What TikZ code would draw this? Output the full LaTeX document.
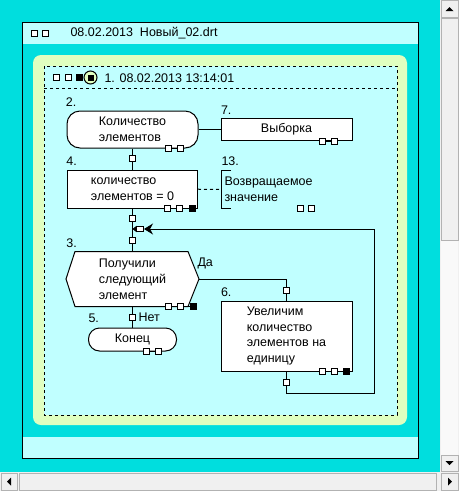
\documentclass[tikz,border=0pt]{standalone}
\usepackage{fontspec}
\setmainfont{Liberation Sans}
\usetikzlibrary{arrows.meta,calc,positioning}
\definecolor{aqua}{HTML}{00DEDE}
\definecolor{paleaqua}{HTML}{C0FFFF}
\definecolor{lime}{HTML}{E0FFC0}
\definecolor{bargray}{HTML}{F0F0F0}
\tikzset{every node/.style={font=\fontsize{12.5}{15.8}\selectfont},
  box/.style={draw,fill=white,inner sep=0pt,align=left},
  port/.style={draw,fill=white,minimum size=6pt,inner sep=0pt},
  num/.style={anchor=west,inner sep=0pt},
  btn/.style={fill=bargray,draw=gray!60}}
% row of output ports under a block
\newcommand\outs[2]{%
  \node[port] (#1a) at ($(#1.south east)+(-30.5,0)$) {};
  \node[port] (#1b) at ($(#1.south east)+(-18.5,0)$) {};
  \draw (#1a) -- (#1b);
  \ifnum#2=1 \node[port,fill=black] (#1c) at ($(#1.south east)+(-6,0)$) {};\draw (#1b) -- (#1c);\fi}

\begin{document}
\begin{tikzpicture}[x=1pt,y=-1pt,line width=1pt]
\useasboundingbox (0,0) rectangle (459,491);
% window
\fill[aqua] (0,0) rectangle (440,472);
\fill[paleaqua] (22,22) rectangle (418,44);\fill[paleaqua] (22,437) rectangle (418,458);
\draw (22,22) rectangle (418,458);
\node[port] (w1) at (34,33) {};\node[port] (w2) at (45,33) {};
\node[anchor=west,inner sep=0pt] (title) at (70,33) {08.02.2013\ \ Новый\_02.drt};
% scroll bars
\fill[bargray] (440,0) rectangle (459,472);\fill[bargray] (0,472) rectangle (459,491);
\fill[white!60!bargray] (441,241) rectangle (458,455);
\draw[btn] (441,0.5) rectangle (458,17);\draw[btn] (441,18) rectangle (458,240);\draw[btn] (441,455) rectangle (458,471);
\draw[btn] (1,473) rectangle (17,490);\draw[btn] (19,473) rectangle (436,490);\draw[btn] (441,473) rectangle (458,490);
\fill (445.5,11) -- (453.5,11) -- (449.5,7) -- cycle;\fill (445.5,461) -- (453.5,461) -- (449.5,465) -- cycle;
\fill (7,481.5) -- (11,477.5) -- (11,485.5) -- cycle;\fill (452,481.5) -- (448,477.5) -- (448,485.5) -- cycle;
% program frame
\fill[lime,rounded corners=8] (33,55) rectangle (407,425);
\draw[dashed,fill=paleaqua] (44,66) rectangle (397,415);
\draw[dashed] (44,88) -- (397,88);
\node[port] (h1) at (56,77.5) {};\node[port] (h2) at (68,77.5) {};\node[port,fill=black] (h3) at (79.5,77.5) {};
\node[circle,draw,fill=lime,minimum size=13pt,inner sep=0pt] (hc) at (90.5,77.5) {};
\node[port,fill=black,minimum size=5pt] (hd) at (hc) {};
\node[anchor=west,inner sep=0pt] (head) at (104,78) {1. 08.02.2013 13:14:01};
% blocks
\node[box,rounded corners=13pt,minimum width=131pt,minimum height=37pt] (n2) at (132.5,129.5) {Количество\\элементов};
\node[box,minimum width=131pt,minimum height=22pt,align=center] (n7) at (286.5,129.5) {Выборка};
\node[box,minimum width=130pt,minimum height=38pt] (n4) at (132.5,189) {количество\\элементов = 0};
\node[anchor=west,minimum height=37pt,inner xsep=3pt,inner ysep=0pt,align=left] (n13) at (221,189.5) {Возвращаемое\\значение};
\draw ($(n13.north west)+(10,0)$) -- (n13.north west) -- (n13.south west) -- ++(10,0);
\node[minimum width=132pt,minimum height=54pt,inner sep=0pt] (n3) at (132.5,279) {};
\draw[fill=white] (n3.west) -- ($(n3.north west)+(9,0)$) -- ($(n3.north east)+(-11,0)$) -- (n3.east)
  -- ($(n3.south east)+(-11,0)$) -- ($(n3.south west)+(9,0)$) -- cycle;
\node[align=left,inner sep=0pt] (t3) at (n3) {Получили\\следующий\\элемент};
\node[box,rounded corners=11pt,minimum width=88pt,minimum height=23pt,align=center] (n5) at (132.5,339.5) {Конец};
\node[box,minimum width=131pt,minimum height=70pt] (n6) at (286.5,336) {Увеличим\\количество\\элементов на\\единицу};
% numbers
\node[num] (l2) at ($(n2.north west)+(-1,-8)$) {2.};
\node[num] (l7) at ($(n7.north west)+(0,-8)$) {7.};
\node[num] (l4) at ($(n4.north west)+(-1,-8)$) {4.};
\node[num] (l13) at ($(n13.north west)+(0,-9)$) {13.};
\node[num] (l3) at ($(n3.north west)+(0,-8)$) {3.};
\node[num] (l5) at ($(n5.north west)+(0,-9)$) {5.};
\node[num] (l6) at ($(n6.north west)+(0,-8)$) {6.};
% ports
\outs{n2}{0}\outs{n7}{0}\outs{n4}{1}\outs{n3}{1}\outs{n5}{0}\outs{n6}{1}
\node[port] (q13a) at (300.5,208.5) {};\node[port] (q13b) at (311.5,208.5) {};
\node[port] (p24) at (132.5,158.5) {};
\node[port] (p43) at (132.5,218.5) {};
\node[port] (p34) at (132.5,240.5) {};
\node[port] (p35) at (132.5,317.5) {};
\node[port] (p36) at (286.5,290) {};
\node[port] (p6) at (286.5,382) {};
\node[port,minimum width=7pt,minimum height=5pt] (pa) at (140,229) {};
\coordinate (j3) at (132.5,229);
\coordinate (r1) at (374,393);
% links
\draw (n2) -- (n7);
\draw[dashed] (n4) -- (n13);
\draw (n2) -- (p24) -- (n4);
\draw (n4) -- (p43) -- (p34) -- (n3);
\draw (n3) -- (p35) -- (n5);
\draw (n3.east) -| (p36) -- (n6);
\draw[-{Stealth[length=9pt,width=11pt]}] (n6) -- (p6) |- (r1) |- (pa);
\draw[-{Triangle[length=4pt,width=6pt]}] (pa) -- (j3);
\node[anchor=west,inner sep=0pt] (yes) at (197,263) {Да};
\node[anchor=west,inner sep=0pt] (no) at (138,317) {Нет};
\end{tikzpicture}
\end{document}
